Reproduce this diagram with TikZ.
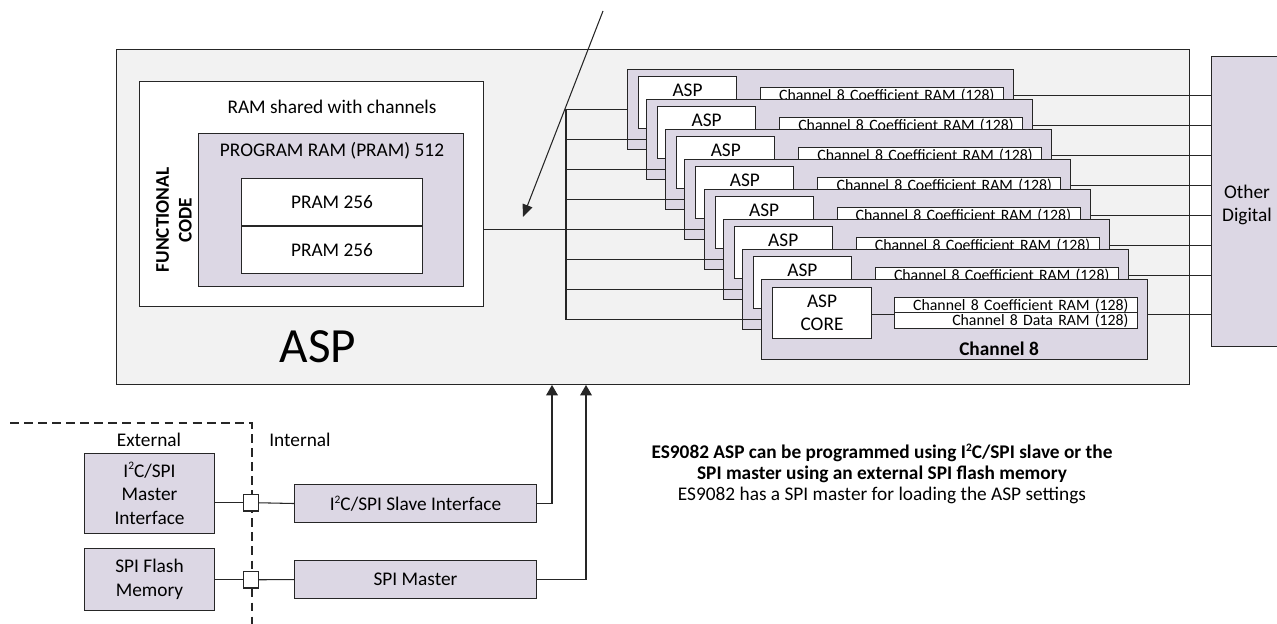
\documentclass[tikz,border=0pt]{standalone}
\usepackage{fontspec}
\setmainfont{Carlito}
\usepackage{tikz}
\usetikzlibrary{arrows,positioning}
\definecolor{aspgray}{HTML}{F2F2F2}
\definecolor{chanfill}{HTML}{DCD7E4}
\newcommand{\isq}{I\raisebox{0.8ex}{\fontsize{6.5}{7}\selectfont 2}C}
\tikzset{font=\fontsize{11}{13}\selectfont}
\tikzset{box/.style={draw=black!85, line width=0.6pt, inner sep=0pt, anchor=north west, align=center},
  grey box/.style={box, fill=aspgray},
  chan box/.style={box, fill=chanfill},
  white box/.style={box, fill=white},
  ramtxt/.style={font=\fontsize{9}{10}\selectfont, text height=1.6ex, text depth=0.35ex},
  wire/.style={line width=0.6pt, draw=black!85}}

\begin{document}
\begin{tikzpicture}[x=0.02cm, y=-0.02cm]
  \useasboundingbox (0,0) rectangle (1277,624);
  % ASP block
  \node[grey box, minimum width=21.46cm, minimum height=6.7cm] (asp) at (116,49) {};
  \node[font=\fontsize{28}{32}\selectfont] (asptxt) at (318,347) {ASP};
  % shared program RAM
  \node[white box, minimum width=6.88cm, minimum height=4.5cm] (func) at (139,81) {};
  \node (shared) at (332,107) {RAM shared with channels};
  \node[chan box, minimum width=5.3cm, minimum height=3.06cm] (pram) at (198,133) {};
  \node (pramtxt) at (332,151) {PROGRAM RAM (PRAM) 512};
  \node[white box, minimum width=3.62cm, minimum height=0.95cm] (pramA) at (241,178) {PRAM 256};
  \node[white box, minimum width=3.62cm, minimum height=0.95cm] (pramB) at (241,225.5) {PRAM 256};
  \node[rotate=90, font=\fontsize{11}{13}\selectfont\bfseries, align=center] (functxt) at (174,220) {FUNCTIONAL\\CODE};
  % channels
  \foreach \i in {1,...,7} {
    \pgfmathsetmacro\cx{627+19.14*(\i-1)}
    \pgfmathsetmacro\cy{69+30*(\i-1)}
    \node[chan box, minimum width=7.72cm, minimum height=1.6cm] (card\i) at (\cx,\cy) {};
    \node[white box, minimum width=1.96cm, minimum height=1.04cm,
      label={[anchor=north, inner sep=4.5pt]north:ASP}] (core\i) at (\cx+11,\cy+7) {};
    \node[white box, ramtxt, minimum width=4.86cm, minimum height=0.3cm, text width=4.5cm, align=right] (coef\i) at (\cx+133,\cy+18) {Channel 8 Coefficient RAM (128)};
  }
  \node[chan box, minimum width=7.72cm, minimum height=1.6cm] (card8) at (761,279) {};
  \node[white box, minimum width=1.98cm, minimum height=1.02cm] (core8) at (772,287) {ASP\\CORE};
  \node[white box, ramtxt, minimum width=4.86cm, minimum height=0.3cm, text width=4.5cm, align=right] (coef8) at (894,297) {Channel 8 Coefficient RAM (128)};
  \node[white box, ramtxt, minimum width=4.86cm, minimum height=0.3cm, text width=4.5cm, align=right] (data8) at (894,312) {Channel 8 Data RAM (128)};
  \node[font=\fontsize{11}{13}\selectfont\bfseries, below=0.12cm of data8, xshift=-0.34cm] (chname) {Channel 8};
  \draw[wire] (core8.east |- coef8.south) -- (coef8.south west);
  % other digital
  \node[chan box, minimum width=1.7cm, minimum height=5.8cm] (other) at (1211,56) {};
  \node[align=center] (othertxt) at (1247,205) {Other\\Digital};
  % buses
  \coordinate (busTop) at (566,109);
  \draw[wire] (busTop) -- (busTop |- card8.west);
  \foreach \i in {1,...,8} \draw[wire] (busTop |- card\i.west) -- (card\i.west);
  \draw[wire] (func.east |- card5.west) -- (card5.west);
  \foreach \i in {1,...,7} \draw[wire] (card\i.east |- coef\i.east) -- (other.west |- coef\i.east);
  \draw[wire] (card8.east |- coef8.south) -- (other.west |- coef8.south);
  \coordinate (noteA) at (603,11);
  \coordinate (noteB) at (523,217);
  \draw[wire, -triangle 45] (noteA) -- (noteB);
  % programming paths
  \coordinate (dashL) at (10,423);
  \coordinate (dashC) at (252,423);
  \coordinate (dashB) at (252,630);
  \draw[wire, dash pattern=on 5pt off 3pt] (dashL) -- (dashC) -- (dashB);
  \node (ext) at (149,440) {External};
  \node (int) at (300,440) {Internal};
  \node[chan box, font=\fontsize{11}{13.5}\selectfont, minimum width=2.6cm, minimum height=1.6cm] (mstr) at (84,453) {\isq/SPI\\Master\\Interface};
  \node[chan box, font=\fontsize{11}{13.5}\selectfont, minimum width=2.6cm, minimum height=1.24cm] (flash) at (84,548) {SPI Flash\\Memory};
  \node[white box, minimum width=0.3cm, minimum height=0.33cm] (sqA) at (243,494) {};
  \node[white box, minimum width=0.3cm, minimum height=0.33cm] (sqB) at (243,571) {};
  \node[chan box, minimum width=4.84cm, minimum height=0.76cm] (slave) at (294,484) {\isq/SPI Slave Interface};
  \node[chan box, minimum width=4.84cm, minimum height=0.76cm] (spim) at (294,560) {SPI Master};
  \draw[wire] (mstr.east |- sqA.west) -- (sqA.west);
  \draw[wire] (sqA.east) -- (slave.west);
  \draw[wire] (flash.east |- sqB.west) -- (sqB.west);
  \draw[wire] (sqB.east) -- (spim.west);
  \draw[wire, -triangle 60] (slave.east) -| ([xshift=0.3cm]asp.south -| slave.east);
  \draw[wire, -triangle 60] (spim.east) -| ([xshift=0.98cm]asp.south -| spim.east);
  \node[align=center, font=\fontsize{11}{12}\selectfont] (note) at (882,474) {\textbf{ES9082 ASP can be programmed using \isq/SPI slave or the}\\\textbf{SPI master using an external SPI flash memory}\\ES9082 has a SPI master for loading the ASP settings};
\end{tikzpicture}
\end{document}
